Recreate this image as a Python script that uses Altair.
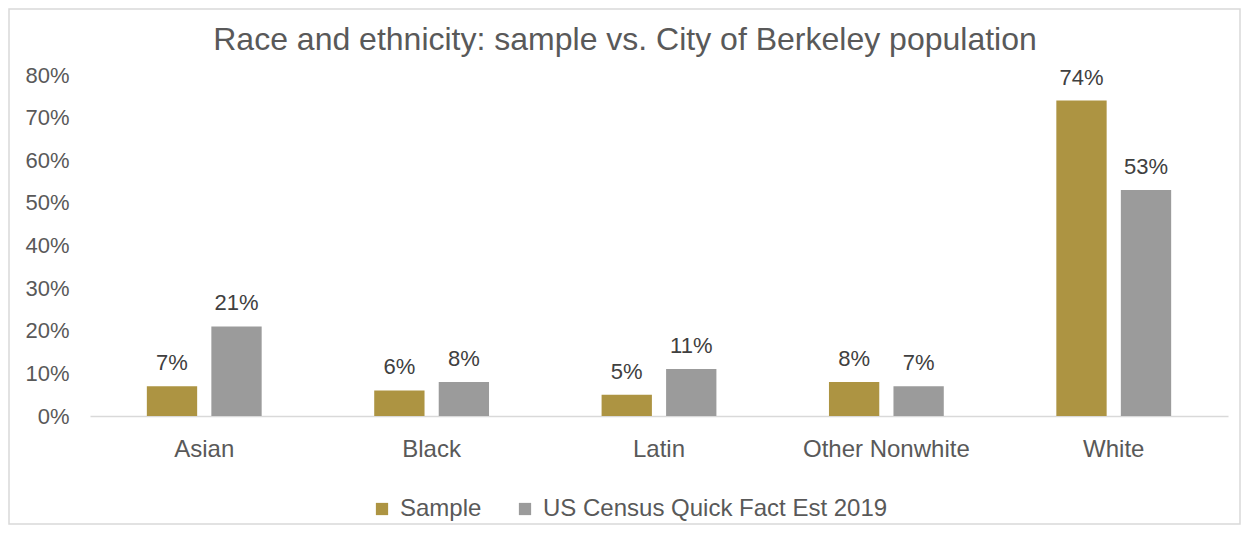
import altair as alt
import pandas as pd

categories = ["Asian", "Black", "Latin", "Other Nonwhite", "White"]
series = ["Sample", "US Census Quick Fact Est 2019"]
sample_vals = [7, 6, 5, 8, 74]
census_vals = [21, 8, 11, 7, 53]
colors = ["#AD9442", "#9B9B9B"]
title_text = "Race and ethnicity: sample vs. City of Berkeley population"

rows = []
for c, v in zip(categories, sample_vals):
    rows.append({"cat": c, "series": series[0], "value": v / 100})
for c, v in zip(categories, census_vals):
    rows.append({"cat": c, "series": series[1], "value": v / 100})
df = pd.DataFrame(rows)

FONT = "Liberation Sans"
TXT = "#595959"
W, H = 1138, 341
PL, PT, PR, PB = 82, 67, 13, 109

base = alt.Chart(df).encode(
    x=alt.X("cat:N", sort=categories,
            scale=alt.Scale(paddingInner=0.495, paddingOuter=0.25),
            axis=alt.Axis(title=None, labelAngle=0, labelFontSize=24, labelColor=TXT,
                          labelFont=FONT, ticks=False, domainColor="#D9D9D9",
                          domainWidth=1.5, labelPadding=21)),
    xOffset=alt.XOffset("series:N", sort=series,
                        scale=alt.Scale(paddingInner=0.22, paddingOuter=0)),
    y=alt.Y("value:Q", scale=alt.Scale(domain=[0, 0.8]),
            axis=alt.Axis(title=None, format=".0%", values=[i / 10 for i in range(9)],
                          labelFontSize=22, labelColor=TXT, labelFont=FONT,
                          ticks=False, domain=False, grid=False, labelPadding=21)),
)

bars = base.mark_bar().encode(
    color=alt.Color("series:N", sort=series,
                    scale=alt.Scale(domain=series, range=colors),
                    legend=alt.Legend(title=None, orient="none", direction="horizontal",
                                      legendX=280, legendY=422, symbolType="square",
                                      symbolSize=150, symbolStrokeWidth=0,
                                      labelFontSize=24, labelColor=TXT, labelFont=FONT,
                                      columnPadding=31, labelOffset=6, labelLimit=500))
)

labels = base.mark_text(dy=-16, baseline="alphabetic", fontSize=22, color="#404040",
                        font=FONT).encode(text=alt.Text("value:Q", format=".0%"))

title_df = pd.DataFrame({"t": [title_text]})
title = alt.Chart(title_df).mark_text(fontSize=32, font=FONT, color=TXT,
                                      baseline="alphabetic", align="center").encode(
    text="t:N", x=alt.value(535), y=alt.value(-25)
)

border_df = pd.DataFrame({"k": [0]})
border = alt.Chart(border_df).mark_rect(fill=None, stroke="#D9D9D9", strokeWidth=1.5).encode(
    x=alt.value(-PL + 1), x2=alt.value(W + PR - 1),
    y=alt.value(-PT + 1), y2=alt.value(H + PB - 1),
)

chart = alt.layer(bars, labels, title, border).properties(
    width=W, height=H,
    autosize=alt.AutoSizeParams(type="none"),
    padding={"left": PL, "top": PT, "right": PR, "bottom": PB},
).configure_view(stroke=None)

chart.save("out.html", embed_options={"renderer": "svg", "actions": False})
